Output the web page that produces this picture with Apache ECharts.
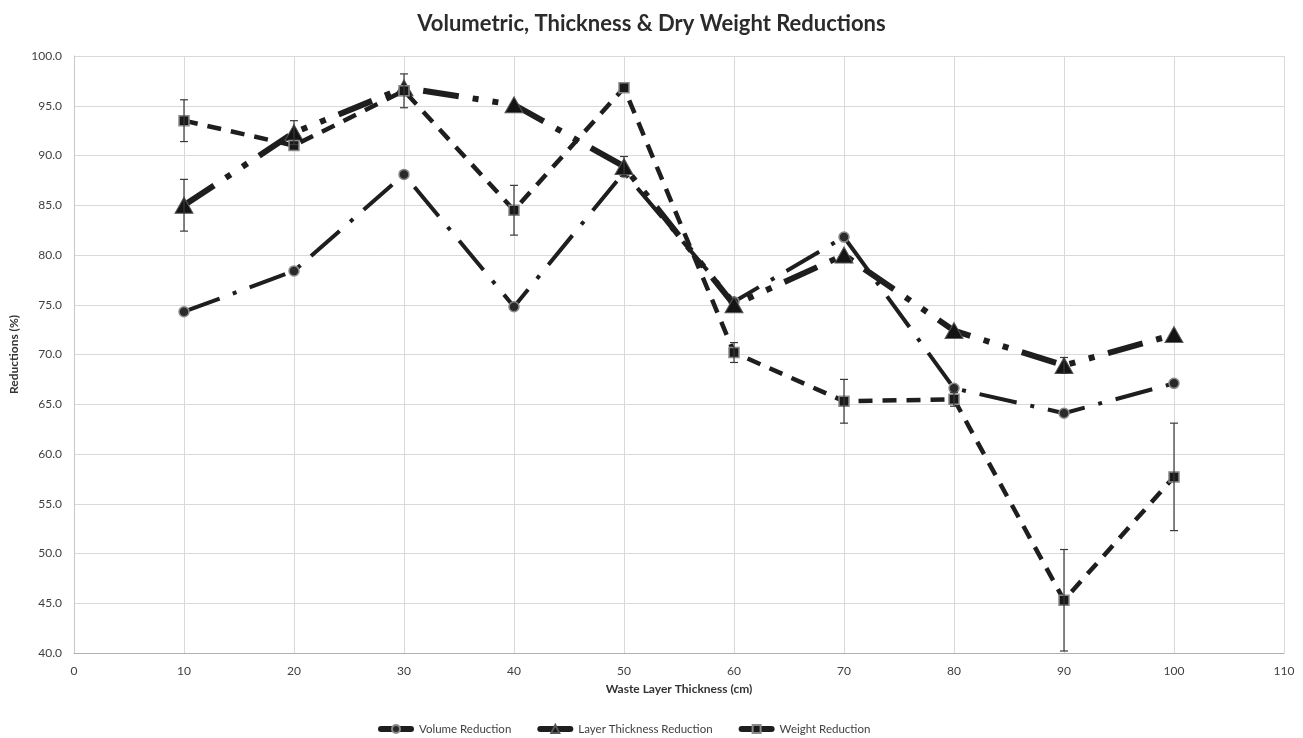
<!DOCTYPE html>
<html>
<head>
<meta charset="utf-8">
<script src="https://cdn.jsdelivr.net/npm/echarts@6/dist/echarts.min.js"></script>
<style>
  html, body { margin: 0; padding: 0; background: #fff; }
  #chart { width: 1303px; height: 738px; }
</style>
</head>
<body>
<div id="chart"></div>
<script>
// waste layer thickness (cm)
const thickness = [10, 20, 30, 40, 50, 60, 70, 80, 90, 100]
const volume = [74.3, 78.4, 88.1, 74.8, 88.3, 75.3, 81.8, 66.6, 64.1, 67.1]
const layer = [85.0, 92.3, 96.8, 95.1, 88.9, 75.0, 80.0, 72.4, 68.9, 72.0]
const layerErr = [2.6, 1.2, 0, 0, 1.0, 0, 0, 0, 0.8, 0]
const weight = [93.5, 91.0, 96.5, 84.5, 96.8, 70.2, 65.3, 65.5, 45.3, 57.7]
const weightErr = [2.1, 0, 1.7, 2.5, 0, 1.0, 2.2, 0.7, 5.1, 5.4]

const FONT = 'Lato'
const INK = '#1e1e1e'

const pairs = (ys) => thickness.map((x, i) => [x, ys[i]])
const errRows = (ys, errs) =>
  thickness.map((x, i) => [x, ys[i] - errs[i], ys[i] + errs[i]]).filter((r, i) => errs[i] > 0)

// vertical error bar with caps
const errorBar = (params, api) => {
  const x = api.value(0)
  const lo = api.coord([x, api.value(1)])
  const hi = api.coord([x, api.value(2)])
  const w = 4
  const style = { stroke: '#3a3a3a', lineWidth: 1.2 }
  return {
    type: 'group',
    children: [
      { type: 'line', shape: { x1: lo[0], y1: lo[1], x2: hi[0], y2: hi[1] }, style },
      { type: 'line', shape: { x1: hi[0] - w, y1: hi[1], x2: hi[0] + w, y2: hi[1] }, style },
      { type: 'line', shape: { x1: lo[0] - w, y1: lo[1], x2: lo[0] + w, y2: lo[1] }, style }
    ]
  }
}

const chart = echarts.init(document.getElementById('chart'))
const option = {
  backgroundColor: '#fff',
  animation: false,
  title: {
    text: 'Volumetric, Thickness & Dry Weight Reductions',
    left: 'center',
    top: 8,
    textStyle: { fontFamily: FONT, fontSize: 22, fontWeight: 'bold', color: '#2b2b2b' }
  },
  legend: {
    top: 723,
    left: 378,
    padding: 0,
    itemWidth: 30,
    itemHeight: 10,
    itemGap: 26,
    data: ['Volume Reduction', 'Layer Thickness Reduction', 'Weight Reduction'],
    lineStyle: { width: 6, type: 'solid', cap: 'round' },
    textStyle: { fontFamily: FONT, fontSize: 11.5, color: '#404040', padding: [0, 0, 0, 3] }
  },
  grid: { left: 74, right: 19, top: 56, bottom: 85 },
  xAxis: {
    type: 'value',
    min: 0,
    max: 110,
    interval: 10,
    name: 'Waste Layer Thickness (cm)',
    nameLocation: 'middle',
    nameGap: 30,
    nameTextStyle: { fontFamily: FONT, fontSize: 12, fontWeight: 'bold', color: '#333' },
    axisLine: { lineStyle: { color: '#b0b0b0', width: 1 } },
    axisTick: { show: false },
    axisLabel: { fontFamily: FONT, fontSize: 12, color: '#404040', margin: 12 },
    splitLine: { show: true, lineStyle: { color: '#d9d9d9', width: 1 } }
  },
  yAxis: {
    type: 'value',
    min: 40,
    max: 100,
    interval: 5,
    name: 'Reductions (%)',
    nameLocation: 'middle',
    nameGap: 50,
    nameTextStyle: { fontFamily: FONT, fontSize: 12, fontWeight: 'bold', color: '#333' },
    axisLine: { show: true, lineStyle: { color: '#c8c8c8', width: 1 } },
    axisTick: { show: false },
    axisLabel: {
      fontFamily: FONT, fontSize: 12, color: '#404040', margin: 12,
      formatter: (v) => v.toFixed(1)
    },
    splitLine: { show: true, lineStyle: { color: '#d9d9d9', width: 1 } }
  },
  series: [
    {
      name: 'Volume Reduction',
      type: 'line',
      data: pairs(volume),
      symbol: 'circle',
      symbolSize: 10,
      itemStyle: { color: '#2a2a2a', borderColor: '#8a8a8a', borderWidth: 1.5 },
      lineStyle: { color: INK, width: 4, type: [38, 14, 4, 14] },
      z: 3
    },
    {
      name: 'Layer Thickness Reduction',
      type: 'line',
      data: pairs(layer),
      symbol: 'triangle',
      symbolSize: [18, 16],
      itemStyle: { color: '#141414', borderColor: '#555', borderWidth: 1 },
      lineStyle: { color: INK, width: 6, type: [36, 14, 6, 14, 6, 14] },
      z: 4
    },
    {
      name: 'Weight Reduction',
      type: 'line',
      data: pairs(weight),
      symbol: 'rect',
      symbolSize: 10,
      itemStyle: { color: '#1a1a1a', borderColor: '#8a8a8a', borderWidth: 1.5 },
      lineStyle: { color: INK, width: 4.5, type: [14, 10] },
      z: 5
    },
    {
      type: 'custom',
      renderItem: errorBar,
      data: errRows(layer, layerErr),
      encode: { x: 0, y: [1, 2] },
      clip: true,
      silent: true,
      z: 6
    },
    {
      type: 'custom',
      renderItem: errorBar,
      data: errRows(weight, weightErr),
      encode: { x: 0, y: [1, 2] },
      clip: true,
      silent: true,
      z: 6
    }
  ]
}
chart.setOption(option)
</script>
</body>
</html>
